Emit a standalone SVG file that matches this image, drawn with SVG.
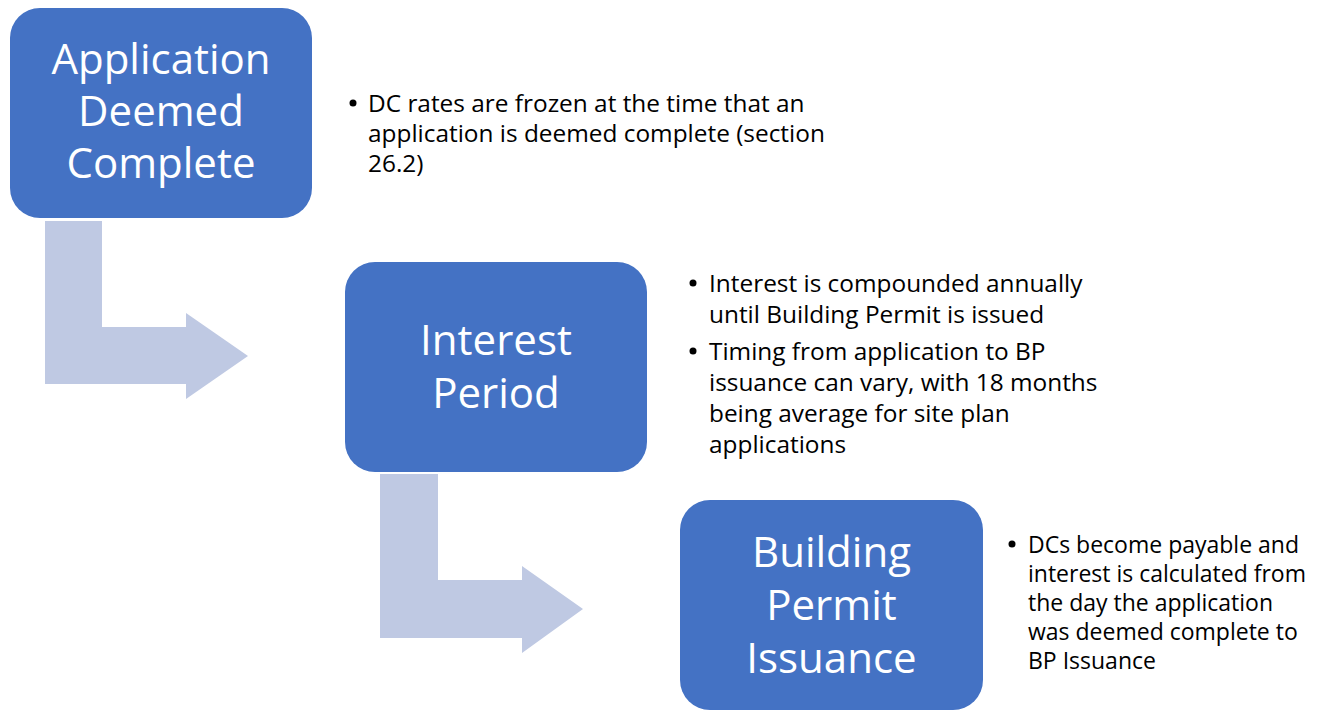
<svg xmlns="http://www.w3.org/2000/svg" width="1321" height="711" viewBox="0 0 1321 711">
  <style>
    .box { fill: #4472C4; }
    .arrow { fill: #BFC9E3; }
    .title { font-family: "Open Sans", "Noto Sans", sans-serif; font-size: 42px; fill: #FFFFFF; text-anchor: middle; }
    .note { font-family: "Open Sans", "Noto Sans", sans-serif; font-size: 24.4px; fill: #000000; }
    .note-sm { font-family: "Open Sans", "Noto Sans", sans-serif; font-size: 23px; fill: #000000; }
    .bullet { fill: #000000; }
  </style>
  <rect width="1321" height="711" fill="#FFFFFF"/>
  <g id="connectors">
    <polygon class="arrow" points="45,221 102,221 102,327 186,327 186,313 248,356 186,399 186,384 45,384"/>
    <polygon class="arrow" points="380,474 438,474 438,580 522,580 522,566 583,609 522,653 522,638 380,638"/>
  </g>
  <g id="node-application">
    <rect class="box" x="10" y="8" width="302" height="210" rx="30" ry="30"/>
    <text class="title" x="161" y="74">Application</text>
    <text class="title" x="161" y="126">Deemed</text>
    <text class="title" x="161" y="178">Complete</text>
  </g>
  <g id="node-interest">
    <rect class="box" x="345" y="262" width="302" height="210" rx="30" ry="30"/>
    <text class="title" x="496" y="355">Interest</text>
    <text class="title" x="496" y="408">Period</text>
  </g>
  <g id="node-permit">
    <rect class="box" x="680" y="500" width="303" height="210" rx="30" ry="30"/>
    <text class="title" x="831.5" y="567">Building</text>
    <text class="title" x="831.5" y="620">Permit</text>
    <text class="title" x="831.5" y="673">Issuance</text>
  </g>
  <g id="note-application">
    <circle class="bullet" cx="353" cy="103" r="3.5"/>
    <text class="note" x="368" y="112">DC rates are frozen at the time that an</text>
    <text class="note" x="368" y="142">application is deemed complete (section</text>
    <text class="note" x="368" y="172">26.2)</text>
  </g>
  <g id="note-interest">
    <circle class="bullet" cx="693" cy="283" r="3.5"/>
    <text class="note" x="709" y="292">Interest is compounded  annually</text>
    <text class="note" x="709" y="323">until Building Permit is issued</text>
    <circle class="bullet" cx="693" cy="351" r="3.5"/>
    <text class="note" x="709" y="360">Timing from application to BP</text>
    <text class="note" x="709" y="391">issuance can vary, with 18 months</text>
    <text class="note" x="709" y="422">being average for site plan</text>
    <text class="note" x="709" y="453">applications</text>
  </g>
  <g id="note-permit">
    <circle class="bullet" cx="1012" cy="544" r="3.5"/>
    <text class="note-sm" x="1028" y="553">DCs become payable and</text>
    <text class="note-sm" x="1028" y="582">interest is calculated from</text>
    <text class="note-sm" x="1028" y="611">the day the application</text>
    <text class="note-sm" x="1028" y="640">was deemed complete to</text>
    <text class="note-sm" x="1028" y="669">BP Issuance</text>
  </g>
</svg>
